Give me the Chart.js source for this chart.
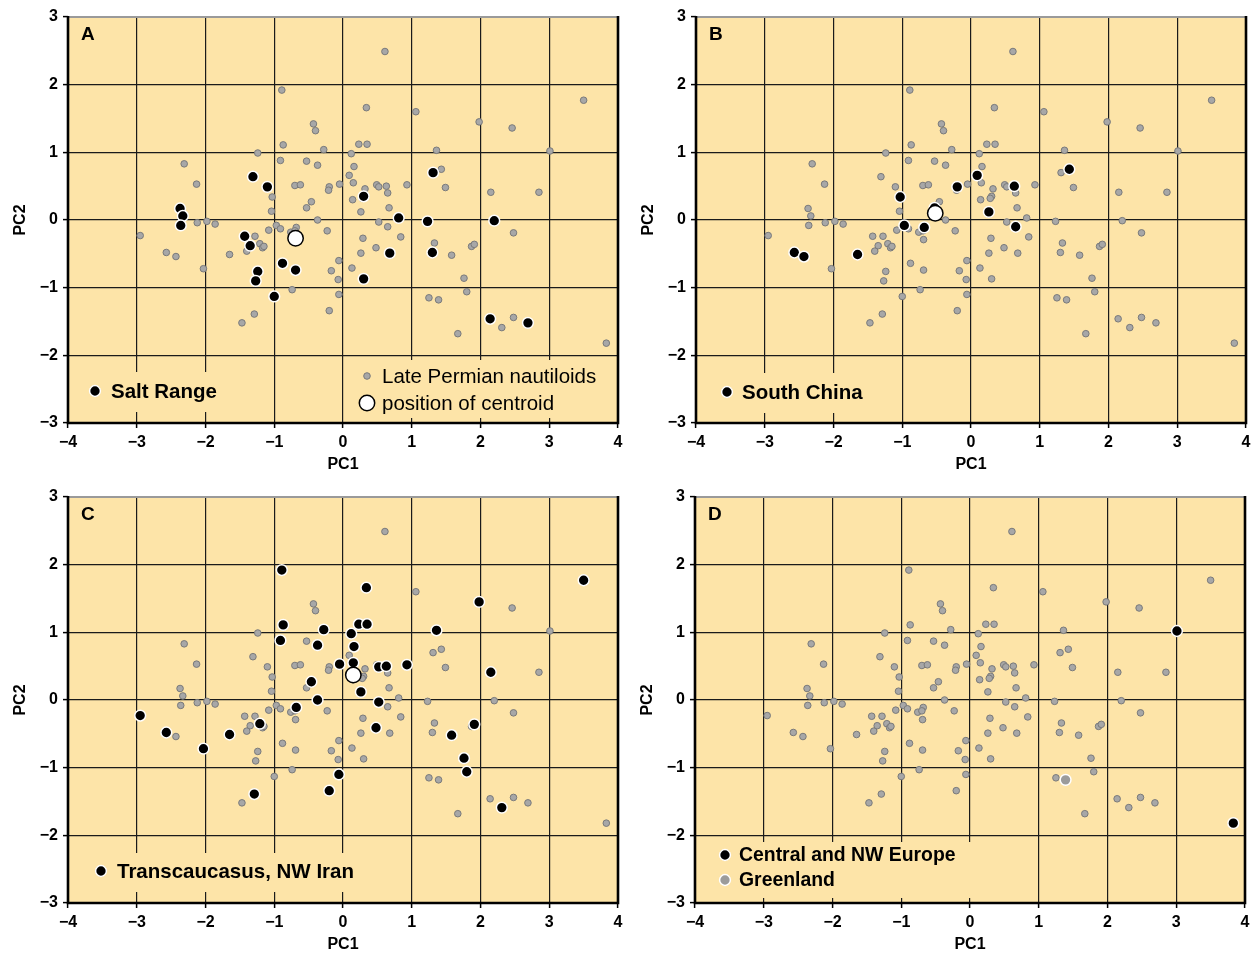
<!DOCTYPE html>
<html>
<head>
<meta charset="utf-8">
<script src="https://cdn.jsdelivr.net/npm/chart.js@4.4.1/dist/chart.umd.min.js"></script>
<style>
  body { margin: 0; background: #fff; }
  #wrap { position: relative; width: 1256px; height: 957px; }
  canvas { position: absolute; }
</style>
</head>
<body>
<div id="wrap">
  <canvas id="panelA" width="628" height="478" style="left:0;top:0"></canvas>
  <canvas id="panelB" width="628" height="478" style="left:628px;top:0"></canvas>
  <canvas id="panelC" width="628" height="478" style="left:0;top:480px"></canvas>
  <canvas id="panelD" width="628" height="478" style="left:627px;top:480px"></canvas>
</div>
<script>
// axis ranges (PC scores)
const pc1Range = [-4, 4];
const pc2Range = [-3, 3];

// all Late Permian nautiloids (grey cloud, same in every panel)
const nautiloidsPC = [
  [0.61, 2.49], [-0.89, 1.92], [3.50, 1.77], [0.34, 1.66], [1.06, 1.60], [1.98, 1.45],
  [-0.43, 1.42], [-0.40, 1.32], [2.46, 1.36], [-0.87, 1.11], [0.23, 1.12], [0.35, 1.12],
  [-0.28, 1.04], [1.36, 1.03], [3.01, 1.02], [-1.24, 0.99], [0.12, 0.98], [-2.31, 0.83],
  [-0.91, 0.88], [-0.53, 0.87], [-0.37, 0.81], [0.16, 0.79], [1.43, 0.75], [1.31, 0.70],
  [0.09, 0.66], [-1.31, 0.64], [-2.13, 0.53], [-1.10, 0.49], [-0.70, 0.51], [-0.62, 0.52],
  [-0.20, 0.49], [-0.21, 0.44], [-0.05, 0.53], [0.15, 0.55], [0.49, 0.52], [0.52, 0.49],
  [0.63, 0.50], [0.65, 0.40], [0.93, 0.52], [1.49, 0.48], [2.15, 0.41], [2.85, 0.41],
  [0.32, 0.46], [0.30, 0.35], [0.28, 0.32], [0.14, 0.30], [-1.03, 0.34], [-0.46, 0.27],
  [-0.53, 0.18], [-1.04, 0.13], [0.26, 0.12], [0.67, 0.18], [-2.37, 0.17], [-2.33, 0.06],
  [-2.36, -0.08], [-2.12, -0.04], [-1.98, -0.02], [-1.86, -0.06], [-0.37, 0.00], [0.81, 0.03],
  [1.23, -0.02], [2.20, -0.01], [0.52, -0.03], [0.65, -0.10], [-0.97, -0.08], [-0.91, -0.13],
  [-1.08, -0.15], [-0.68, -0.11], [-0.76, -0.18], [-0.70, -0.16], [-0.69, -0.29], [-0.23, -0.16],
  [-2.95, -0.23], [-1.43, -0.24], [-1.28, -0.24], [-1.35, -0.38], [-1.40, -0.46], [-1.21, -0.35],
  [-1.17, -0.41], [-1.15, -0.39], [0.29, -0.27], [0.84, -0.25], [2.48, -0.19], [-2.57, -0.48],
  [-2.43, -0.54], [-1.65, -0.51], [0.26, -0.49], [0.48, -0.41], [0.68, -0.49], [1.33, -0.34],
  [1.30, -0.48], [1.58, -0.52], [1.87, -0.39], [1.91, -0.36], [-0.88, -0.64], [-0.06, -0.60],
  [-2.03, -0.72], [-0.69, -0.74], [-0.17, -0.75], [0.13, -0.71], [-1.24, -0.76], [-1.27, -0.90],
  [-0.07, -0.88], [0.30, -0.87], [1.76, -0.86], [1.80, -1.06], [-0.74, -1.03], [-1.00, -1.13],
  [-0.06, -1.10], [1.25, -1.15], [1.39, -1.18], [-0.20, -1.34], [-1.29, -1.39], [-1.47, -1.52],
  [1.67, -1.68], [2.14, -1.46], [2.31, -1.59], [2.48, -1.44], [2.69, -1.52], [3.83, -1.82]
];

// regional subsets
const saltRangePC = [
  [-2.37, 0.17], [-2.33, 0.06], [-2.36, -0.08], [-1.31, 0.64], [-1.10, 0.49], [-1.43, -0.24],
  [-1.35, -0.38], [-0.88, -0.64], [-0.69, -0.74], [-1.24, -0.76], [-1.27, -0.90], [-1.00, -1.13],
  [1.31, 0.70], [0.30, 0.35], [0.81, 0.03], [1.23, -0.02], [2.20, -0.01], [0.68, -0.49],
  [1.30, -0.48], [0.30, -0.87], [2.14, -1.46], [2.69, -1.52]
];
const saltRangeCentroid = [[-0.69, -0.27]];

const southChinaPC = [
  [-2.57, -0.48], [-2.43, -0.54], [-1.65, -0.51], [-1.03, 0.34], [-0.97, -0.08], [-0.68, -0.11],
  [-0.53, 0.18], [-0.20, 0.49], [0.09, 0.66], [0.63, 0.50], [0.26, 0.12], [0.65, -0.10], [1.43, 0.75]
];
const southChinaCentroid = [[-0.52, 0.10]];

const transcaucasusPC = [
  [-0.89, 1.92], [-0.87, 1.11], [-0.91, 0.88], [-0.28, 1.04], [-0.37, 0.81], [-0.46, 0.27],
  [-0.37, 0.00], [-0.68, -0.11], [-1.21, -0.35], [-2.95, -0.23], [-2.57, -0.48], [-2.03, -0.72],
  [-1.65, -0.51], [-1.29, -1.39], [-0.20, -1.34], [0.34, 1.66], [0.23, 1.12], [0.35, 1.12],
  [0.12, 0.98], [0.16, 0.79], [-0.05, 0.53], [0.15, 0.55], [0.52, 0.49], [0.63, 0.50],
  [0.93, 0.52], [0.26, 0.12], [0.52, -0.03], [0.48, -0.41], [-0.06, -1.10], [1.36, 1.03],
  [1.98, 1.45], [3.50, 1.77], [2.15, 0.41], [1.58, -0.52], [1.91, -0.36], [1.76, -0.86],
  [1.80, -1.06], [2.31, -1.59]
];
const transcaucasusCentroid = [[0.15, 0.37]];

const europePC = [[3.01, 1.02], [3.83, -1.82]];
const greenlandPC = [[1.39, -1.18]];

const PLOT_BG = '#fde4a8';
const FONT = "'Liberation Sans', Arial, sans-serif";

const markerStyles = {
    nautiloid: { radius: 3.3, fill: '#a7a7a7', border: '#7a7a7a', borderWidth: 1 },
    region:    { radius: 5.4, fill: '#000000', border: '#ffffff', borderWidth: 1.5 },
    centroid:  { radius: 7.7, fill: '#ffffff', border: '#000000', borderWidth: 1.5 },
    greenland: { radius: 5.4, fill: '#9b9b9b', border: '#ffffff', borderWidth: 1.5 }
};

const panels = [
    {
        id: 'panelA', letter: 'A', legendSize: 20.5,
        sets: [[nautiloidsPC, 'nautiloid'], [saltRangePC, 'region'], [saltRangeCentroid, 'centroid']],
        boxes: [[85, 372, 228, 412], [355, 360, 612, 418]],
        legend: [
            { kind: 'region', x: 95, y: 391, tx: 111, text: 'Salt Range', bold: true },
            { kind: 'nautiloid', x: 367, y: 376, tx: 382, text: 'Late Permian nautiloids', bold: false },
            { kind: 'centroid', x: 367, y: 403, tx: 382, text: 'position of centroid', bold: false }
        ]
    },
    {
        id: 'panelB', letter: 'B', legendSize: 20.5,
        sets: [[nautiloidsPC, 'nautiloid'], [southChinaPC, 'region'], [southChinaCentroid, 'centroid']],
        boxes: [[85, 373, 242, 413]],
        legend: [
            { kind: 'region', x: 99, y: 392, tx: 114, text: 'South China', bold: true }
        ]
    },
    {
        id: 'panelC', letter: 'C', legendSize: 20.5,
        sets: [[nautiloidsPC, 'nautiloid'], [transcaucasusPC, 'region'], [transcaucasusCentroid, 'centroid']],
        boxes: [[88, 373, 362, 412]],
        legend: [
            { kind: 'region', x: 101, y: 391, tx: 117, text: 'Transcaucasus, NW Iran', bold: true }
        ]
    },
    {
        id: 'panelD', letter: 'D', legendSize: 19.4,
        sets: [[nautiloidsPC, 'nautiloid'], [greenlandPC, 'greenland'], [europePC, 'region']],
        boxes: [[85, 362, 352, 418]],
        legend: [
            { kind: 'region', x: 98, y: 375, tx: 112, text: 'Central and NW Europe', bold: true },
            { kind: 'greenland', x: 98, y: 400, tx: 112, text: 'Greenland', bold: true }
        ]
    }
];

function formatTick(v) {
    return v < 0 ? '\u2212' + Math.abs(v) : String(v);
}

function drawMarker(ctx, kind, x, y) {
    const s = markerStyles[kind];
    ctx.beginPath();
    ctx.arc(x, y, s.radius, 0, Math.PI * 2);
    ctx.fillStyle = s.fill;
    ctx.fill();
    ctx.lineWidth = s.borderWidth;
    ctx.strokeStyle = s.border;
    ctx.stroke();
}

function pointSet(points, kind, order) {
    const s = markerStyles[kind];
    return {
        data: points.map(p => ({ x: p[0], y: p[1] })),
        pointRadius: s.radius,
        pointHoverRadius: s.radius,
        pointBackgroundColor: s.fill,
        pointBorderColor: s.border,
        pointBorderWidth: s.borderWidth,
        order: order
    };
}

// background, legend boxes, frame, letter and legend drawn around the datasets
function makeDecor(panel) {
    return {
        id: 'decor' + panel.letter,
        beforeDraw(chart) {
            const { ctx, chartArea: a } = chart;
            ctx.save();
            ctx.fillStyle = PLOT_BG;
            ctx.fillRect(a.left, a.top, a.right - a.left, a.bottom - a.top);
            ctx.restore();
        },
        beforeDatasetsDraw(chart) {
            const { ctx, chartArea: a } = chart;
            ctx.save();
            ctx.fillStyle = PLOT_BG;
            panel.boxes.forEach(b => ctx.fillRect(b[0], b[1], b[2] - b[0], b[3] - b[1]));

            // frame: grey top, black left/right/bottom
            ctx.lineWidth = 2;
            ctx.strokeStyle = '#9a9a9a';
            ctx.beginPath();
            ctx.moveTo(a.left, a.top);
            ctx.lineTo(a.right, a.top);
            ctx.stroke();
            ctx.strokeStyle = '#000';
            ctx.lineWidth = 2.6;
            ctx.beginPath();
            ctx.moveTo(a.left, a.top - 1);
            ctx.lineTo(a.left, a.bottom);
            ctx.lineTo(a.right, a.bottom);
            ctx.lineTo(a.right, a.top - 1);
            ctx.stroke();
            ctx.restore();
        },
        afterDatasetsDraw(chart) {
            const { ctx, chartArea: a } = chart;
            ctx.save();
            ctx.fillStyle = '#000';
            ctx.textBaseline = 'middle';
            ctx.textAlign = 'left';
            ctx.font = 'bold 19px ' + FONT;
            ctx.fillText(panel.letter, a.left + 13, a.top + 18);

            panel.legend.forEach(item => {
                drawMarker(ctx, item.kind, item.x, item.y);
                ctx.fillStyle = '#000';
                ctx.font = (item.bold ? 'bold ' : '') + panel.legendSize + 'px ' + FONT;
                ctx.fillText(item.text, item.tx, item.y + 1);
            });
            ctx.restore();
        }
    };
}

function buildPanel(panel) {
    const ctx = document.getElementById(panel.id);
    const n = panel.sets.length;
    const datasets = panel.sets.map((s, i) => pointSet(s[0], s[1], n - i));

    const tickFont = { family: FONT, size: 16, weight: 'bold' };
    const gridStyle = {
        color: '#1a1a1a',
        lineWidth: 1.2,
        drawTicks: true,
        tickLength: 5,
        tickColor: '#000',
        tickWidth: 1.5
    };

    return new Chart(ctx, {
        type: 'scatter',
        data: { datasets: datasets },
        options: {
            responsive: false,
            animation: false,
            events: [],
            layout: { padding: { top: 17, right: 10, bottom: 0, left: 0 } },
            scales: {
                x: {
                    type: 'linear',
                    min: pc1Range[0],
                    max: pc1Range[1],
                    grid: gridStyle,
                    border: { display: false },
                    ticks: {
                        stepSize: 1,
                        autoSkip: false,
                        maxRotation: 0,
                        padding: 5,
                        color: '#000',
                        font: tickFont,
                        callback: v => formatTick(v)
                    },
                    title: {
                        display: true,
                        text: 'PC1',
                        color: '#000',
                        font: { family: FONT, size: 16, weight: 'bold' },
                        padding: { top: 0, bottom: 4 }
                    },
                    afterFit: scale => { scale.height = 55; }
                },
                y: {
                    type: 'linear',
                    min: pc2Range[0],
                    max: pc2Range[1],
                    grid: gridStyle,
                    border: { display: false },
                    ticks: {
                        stepSize: 1,
                        autoSkip: false,
                        padding: 5,
                        color: '#000',
                        font: tickFont,
                        callback: v => formatTick(v)
                    },
                    title: {
                        display: true,
                        text: 'PC2',
                        color: '#000',
                        font: { family: FONT, size: 16, weight: 'bold' },
                        padding: { top: 11, bottom: 0 }
                    },
                    afterFit: scale => { scale.width = 68; }
                }
            },
            plugins: {
                legend: { display: false },
                tooltip: { enabled: false }
            }
        },
        plugins: [makeDecor(panel)]
    });
}

panels.forEach(p => buildPanel(p));
</script>
</body>
</html>
